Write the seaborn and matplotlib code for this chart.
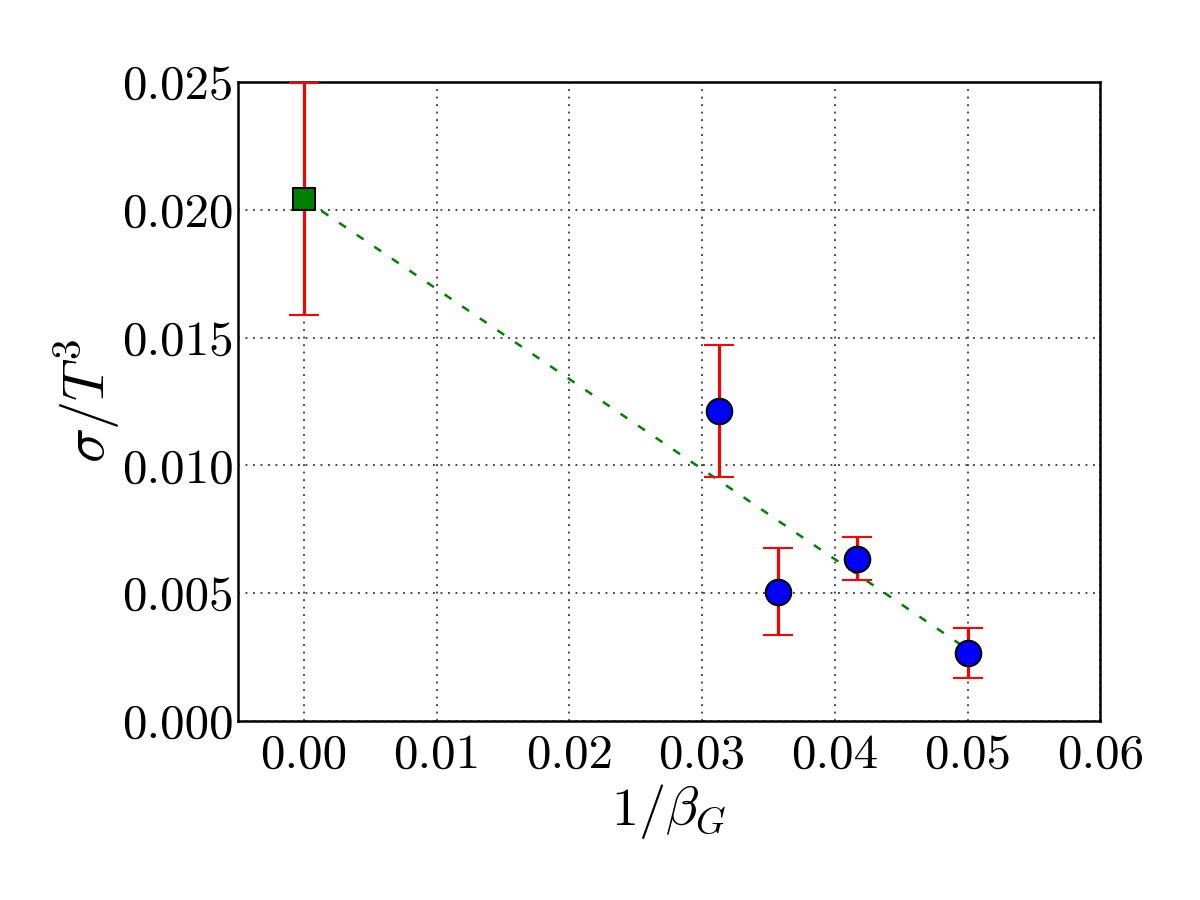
import numpy as np
import pandas as pd
import matplotlib
matplotlib.use("Agg")
import matplotlib.pyplot as plt
import seaborn as sns

# lattice points, 1/beta_G
inv_beta = [1 / 32, 1 / 28, 1 / 24, 1 / 20]
sigma = [0.01213, 0.00506, 0.00634, 0.00265]
sigma_err = [0.00258, 0.00171, 0.00084, 0.00097]

# continuum extrapolation
cont_x = [0.0]
cont_y = [0.02042]
cont_err = [0.00454]

# linear fit line
fit_x = [0.0, 0.05]
fit_y = [0.02042, 0.0028]

sns.set_style("whitegrid")
plt.rcParams["font.family"] = ["cmr10", "DejaVu Serif"]
plt.rcParams["mathtext.fontset"] = "cm"
plt.rcParams["axes.formatter.use_mathtext"] = True

df = pd.DataFrame({"x": inv_beta, "y": sigma, "err": sigma_err})
fit_df = pd.DataFrame({"x": fit_x, "y": fit_y})

fig, ax = plt.subplots(figsize=(8, 6), dpi=150)
fig.subplots_adjust(left=0.198, right=0.917, bottom=0.199, top=0.909)

sns.lineplot(data=fit_df, x="x", y="y", ax=ax, color="green",
             linestyle=(0, (3.3, 5.2)), linewidth=1.2, zorder=2)

ax.errorbar(cont_x, cont_y, yerr=cont_err, fmt="none", ecolor="red",
            elinewidth=1.5, capsize=7, zorder=3)
ax.errorbar(df["x"], df["y"], yerr=df["err"], fmt="none", ecolor="red",
            elinewidth=1.5, capsize=7, zorder=3)

sns.scatterplot(x=cont_x, y=cont_y, ax=ax, marker="s", s=110, color="green",
                edgecolor="black", linewidth=1, zorder=4)
sns.scatterplot(data=df, x="x", y="y", ax=ax, marker="o", s=150, color="blue",
                edgecolor="black", linewidth=1, zorder=4)

ax.set_xlim(-0.005, 0.06)
ax.set_ylim(0.0, 0.025)
ax.set_xticks(np.arange(0, 0.061, 0.01))
ax.set_yticks(np.arange(0, 0.0251, 0.005))
ax.set_xticklabels([f"{v:.2f}" for v in np.arange(0, 0.061, 0.01)])
ax.set_yticklabels([f"{v:.3f}" for v in np.arange(0, 0.0251, 0.005)])
ax.tick_params(labelsize=23.5, length=0, colors="black")
ax.tick_params(axis="x", pad=6)
ax.tick_params(axis="y", pad=2)

ax.grid(True, color="0.25", linestyle=(0, (1, 3)), linewidth=0.9)
for sp in ax.spines.values():
    sp.set_color("black")
    sp.set_linewidth(1.2)

ax.set_xlabel(r"$1/\beta_G$", fontsize=26, labelpad=2, color="black")
ax.set_ylabel(r"$\sigma/T^3$", fontsize=28, labelpad=0, color="black")

fig.savefig("out.png", dpi=150, facecolor="white")
